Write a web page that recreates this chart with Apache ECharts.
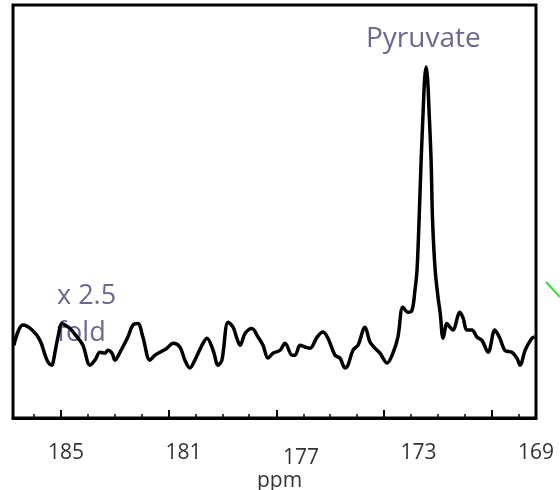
<!DOCTYPE html>
<html>
<head>
<meta charset="utf-8">
<script src="https://cdn.jsdelivr.net/npm/echarts@6/dist/echarts.min.js"></script>
<style>
  html, body { margin: 0; padding: 0; background: #fff; }
  #chart { width: 560px; height: 490px; }
</style>
</head>
<body>
<div id="chart"></div>
<script>
// chemical shift (ppm) and intensity
const ppm = [
  186.77, 186.46, 186.15, 185.88, 185.64, 185.47, 185.44, 185.27, 185.13, 185.03,
  184.86, 184.62, 184.42, 184.18, 184.01, 183.84, 183.67, 183.57, 183.43, 183.33,
  183.16, 182.89, 182.72, 182.55, 182.38, 182.14, 181.97, 181.80, 181.56, 181.35,
  181.12, 180.95, 180.78, 180.61, 180.37, 180.20, 179.99, 179.82, 179.69, 179.48,
  179.31, 179.18, 179.07, 178.90, 178.67, 178.46, 178.29, 178.12, 177.95, 177.71,
  177.54, 177.30, 177.20, 177.03, 176.86, 176.69, 176.45, 176.25, 176.08, 175.84,
  175.67, 175.50, 175.40, 175.23, 175.06, 174.82, 174.65, 174.48, 174.31, 174.07,
  173.87, 173.70, 173.53, 173.36, 173.22, 173.12, 173.05, 172.98, 172.91, 172.84,
  172.79, 172.74, 172.69, 172.64, 172.57, 172.52, 172.43, 172.33, 172.26, 172.16,
  172.03, 171.93, 171.83, 171.59, 171.48, 171.35, 171.18, 171.01, 170.84, 170.63,
  170.40, 170.23, 170.06, 169.82, 169.65, 169.54, 169.37, 169.14, 169.04
];
const intensity = [
  17.6, 22.5, 21.3, 18.8, 14.0, 12.8, 13.3, 19.6, 22.9, 22.5,
  21.7, 19.6, 17.6, 12.8, 14.0, 15.9, 15.7, 16.4, 15.7, 14.0,
  15.9, 19.6, 22.5, 22.9, 19.6, 14.0, 15.2, 15.9, 16.9, 18.1,
  17.2, 14.0, 12.1, 14.0, 17.6, 19.3, 16.4, 12.8, 14.0, 23.2,
  22.0, 19.3, 17.6, 20.5, 21.7, 19.6, 17.6, 14.5, 15.7, 16.4,
  18.1, 15.2, 15.2, 17.6, 17.2, 16.9, 19.6, 20.8, 19.3, 15.2,
  14.5, 12.1, 12.8, 16.4, 17.6, 22.0, 18.4, 16.9, 15.7, 13.3,
  15.7, 19.6, 26.8, 25.6, 26.1, 30.9, 35.7, 47.8, 62.3, 74.4,
  82.1, 85.0, 82.1, 74.4, 62.3, 47.8, 35.7, 29.0, 25.4, 19.3,
  22.9, 22.0, 21.3, 25.6, 24.2, 21.3, 21.3, 19.6, 18.8, 15.9,
  21.3, 19.3, 16.4, 15.9, 14.5, 12.8, 16.4, 19.3, 19.6
];

// axis labels and tick marks (ppm)
const labelValues = [185, 181, 177, 173, 169];
const majorTicks = [185.17, 181.505, 177.84, 174.175, 170.51];
const minorTicks = [186.09, 184.25, 183.34, 182.42, 180.59, 179.67, 178.76,
  176.92, 176.01, 175.09, 173.26, 172.34, 171.43, 169.59];

const purple = '#706690';

const chart = echarts.init(document.getElementById('chart'), null, { renderer: 'canvas' });

const option = {
  animation: false,
  grid: {
    left: 13, right: 24, top: 5, bottom: 72,
    outerBoundsMode: 'none',
    show: true,
    borderColor: '#000',
    borderWidth: 3
  },
  xAxis: [{
    type: 'value',
    min: 169,
    max: 186.8,
    inverse: true,
    name: 'ppm',
    nameLocation: 'middle',
    nameGap: 53,
    nameMoveOverlap: false,
    nameTextStyle: { fontSize: 21, color: '#333', fontFamily: 'Open Sans', padding: [0, 0, 0, 10] },
    splitLine: { show: false },
    axisLine: { lineStyle: { color: '#000', width: 3 } },
    axisTick: {
      inside: true, length: 8,
      customValues: majorTicks,
      lineStyle: { color: '#000', width: 2 }
    },
    axisLabel: {
      customValues: labelValues,
      margin: 25,
      fontSize: 21,
      color: '#333',
      fontFamily: 'Open Sans',
      formatter: function (v) {
        return v === 177 ? '{low|177}' : String(v);
      },
      rich: {
        low: { fontSize: 21, color: '#333', fontFamily: 'Open Sans', padding: [5, 0, 0, 0] }
      }
    }
  }, {
    type: 'value',
    position: 'bottom',
    min: 169,
    max: 186.8,
    inverse: true,
    splitLine: { show: false },
    axisLine: { show: false },
    axisLabel: { show: false },
    axisTick: {
      inside: true, length: 4,
      customValues: minorTicks,
      lineStyle: { color: '#000', width: 1.5 }
    }
  }],
  yAxis: {
    type: 'value',
    min: 0,
    max: 100,
    show: false
  },
  series: [{
    type: 'line',
    data: ppm.map((p, i) => [p, intensity[i]]),
    showSymbol: false,
    smooth: 0.35,
    lineStyle: { color: '#000', width: 3.5 }
  }],
  graphic: [{
    type: 'text',
    left: 366, top: 25,
    style: { text: 'Pyruvate', fontSize: 28, fill: purple, fontFamily: 'Open Sans' }
  }, {
    type: 'text',
    left: 57, top: 278,
    style: { text: 'x 2.5\nfold', fontSize: 27, lineHeight: 37, fill: purple, fontFamily: 'Open Sans' }
  }, {
    type: 'line',
    shape: { x1: 546, y1: 282, x2: 560, y2: 297 },
    style: { stroke: '#33dd33', lineWidth: 2 }
  }]
};

chart.setOption(option);
</script>
</body>
</html>
